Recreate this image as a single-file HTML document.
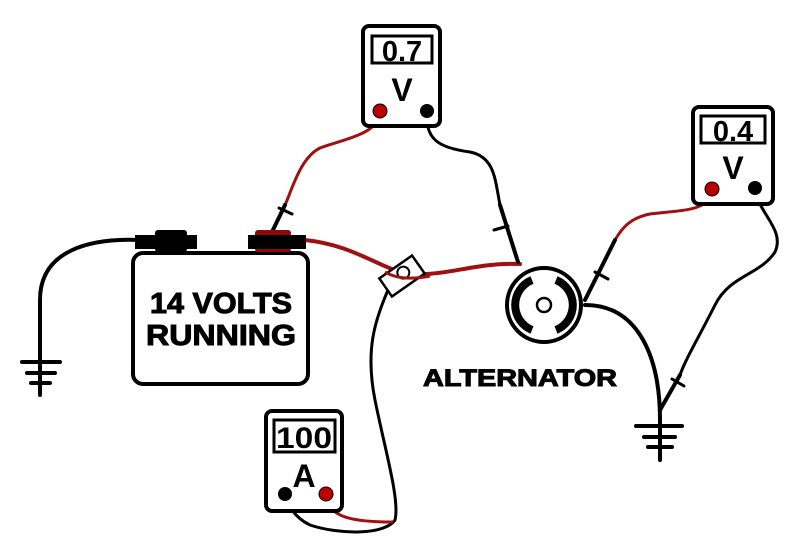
<!DOCTYPE html>
<html><head><style>html,body{margin:0;padding:0;background:#fff}svg{display:block}</style></head><body>
<svg width="800" height="554" viewBox="0 0 800 554" xmlns="http://www.w3.org/2000/svg">
<g fill="none" stroke-linecap="round" stroke-linejoin="round">
<path d="M140 240 C90 238 40 250 40 300 L40 395" stroke="#000" stroke-width="4"/>
<path d="M22 362 H60 M27 373 H55 M31 383 H50" stroke="#000" stroke-width="4"/>
<path d="M305 240 C350 245 370 262 400 272 C440 280 470 262 520 264" stroke="#a01010" stroke-width="4"/>
<path d="M380 113 C378 135 340 140 320 148 C300 158 292 190 285 205" stroke="#a01010" stroke-width="3"/>
<path d="M285 205 L272 232" stroke="#000" stroke-width="4"/>
<path d="M279 208 L292 214" stroke="#000" stroke-width="3"/>
<path d="M427 113 C425 140 440 148 470 152 C495 157 495 180 500 205" stroke="#000" stroke-width="3"/>
<path d="M500 205 L518 262" stroke="#000" stroke-width="4"/>
<path d="M494 230 L508 226" stroke="#000" stroke-width="3"/>
<path d="M712 190 C710 212 680 210 650 214 C630 218 622 228 615 240" stroke="#a01010" stroke-width="3"/>
<path d="M615 240 L585 300" stroke="#000" stroke-width="4"/>
<path d="M595 272 L608 279" stroke="#000" stroke-width="3"/>
<path d="M755 190 C760 215 785 230 775 252 C760 275 730 275 715 305 C700 335 685 360 680 375" stroke="#000" stroke-width="3"/>
<path d="M680 375 L660 410" stroke="#000" stroke-width="4"/>
<path d="M672 379 L684 386" stroke="#000" stroke-width="3"/>
<path d="M585 305 C640 305 660 360 660 420 L660 460" stroke="#000" stroke-width="4"/>
<path d="M636 426 H682 M644 437 H675 M648 447 H672" stroke="#000" stroke-width="4"/>
<path d="M388 290 C375 320 365 350 375 400 C385 450 400 500 395 520 C385 535 340 535 310 525 C295 518 288 505 285 494" stroke="#000" stroke-width="3"/>
<path d="M326 494 C328 515 345 522 392 522" stroke="#a01010" stroke-width="3"/>
</g>
<g transform="translate(402 276) rotate(-35)">
<rect x="-20" y="-11" width="40" height="22" fill="#fff" stroke="#000" stroke-width="2.5"/>
<circle cx="3" cy="-2" r="6" fill="none" stroke="#000" stroke-width="2"/>
</g>
<path d="M385 272 C395 278 410 280 430 276" stroke="#a01010" stroke-width="3" fill="none"/>
<rect x="133" y="253" width="175" height="131" rx="10" fill="#fff" stroke="#000" stroke-width="4"/>
<rect x="155" y="230" width="32" height="22" rx="3" fill="#000"/>
<rect x="135" y="235" width="62" height="14" fill="#000"/>
<rect x="255" y="230" width="36" height="22" rx="3" fill="#8b0b0b"/>
<rect x="248" y="235" width="58" height="14" fill="#000"/>
<g font-family="Liberation Sans, sans-serif" font-weight="bold" text-anchor="middle" stroke="#000" stroke-width="1">
<text x="221" y="313" font-size="29" textLength="142" lengthAdjust="spacingAndGlyphs">14 VOLTS</text>
<text x="221" y="345" font-size="29" textLength="150" lengthAdjust="spacingAndGlyphs">RUNNING</text>
<text x="520" y="386" font-size="24" textLength="194" lengthAdjust="spacingAndGlyphs">ALTERNATOR</text>
</g>
<circle cx="544" cy="305" r="37" fill="#fff" stroke="#000" stroke-width="4"/>
<path d="M532 280 A27 27 0 0 0 532 330" fill="none" stroke="#000" stroke-width="8"/>
<path d="M556 280 A27 27 0 0 1 556 330" fill="none" stroke="#000" stroke-width="8"/>
<circle cx="544" cy="305" r="7" fill="none" stroke="#000" stroke-width="2.5"/>
<g font-family="Liberation Sans, sans-serif" font-weight="bold" text-anchor="middle">
<rect x="363" y="26" width="77" height="100" rx="6" fill="#fff" stroke="#000" stroke-width="4"/>
<rect x="372" y="36" width="60" height="27" fill="#fff" stroke="#000" stroke-width="3"/>
<text x="402" y="61" font-size="29">0.7</text>
<text x="402" y="101" font-size="32">V</text>
<circle cx="380" cy="111" r="7" fill="#b00" stroke="#000" stroke-width="1"/>
<circle cx="427" cy="111" r="7" fill="#000"/>
<rect x="693" y="107" width="80" height="97" rx="6" fill="#fff" stroke="#000" stroke-width="4"/>
<rect x="701" y="116" width="64" height="27" fill="#fff" stroke="#000" stroke-width="3"/>
<text x="733" y="141" font-size="29">0.4</text>
<text x="733" y="179" font-size="32">V</text>
<circle cx="712" cy="189" r="7" fill="#b00" stroke="#000" stroke-width="1"/>
<circle cx="755" cy="188" r="7" fill="#000"/>
<rect x="266" y="411" width="76" height="100" rx="6" fill="#fff" stroke="#000" stroke-width="4"/>
<rect x="274" y="420" width="61" height="32" fill="#fff" stroke="#000" stroke-width="3"/>
<text x="304" y="448" font-size="30" textLength="56" lengthAdjust="spacingAndGlyphs">100</text>
<text x="304" y="487" font-size="32">A</text>
<circle cx="285" cy="494" r="7" fill="#000"/>
<circle cx="326" cy="494" r="7" fill="#b00" stroke="#000" stroke-width="1"/>
</g>
</svg>
</body></html>
